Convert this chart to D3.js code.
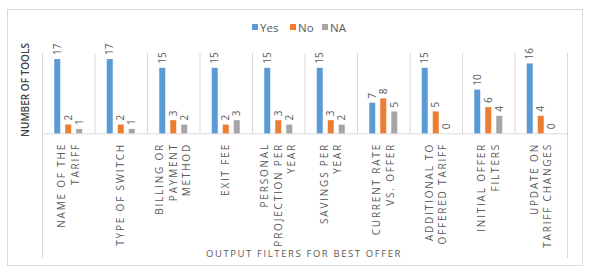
<!DOCTYPE html>
<html><head><meta charset="utf-8">
<script src="https://cdn.jsdelivr.net/npm/d3@7"></script>
<style>
html,body{margin:0;padding:0;background:#fff;}
text{font-family:"Open Sans","Liberation Sans",sans-serif;}
</style></head>
<body><svg id="c" width="589" height="273"></svg>
<script>
const categories = [
  ["NAME OF THE","TARIFF"],
  ["TYPE OF SWITCH"],
  ["BILLING OR","PAYMENT","METHOD"],
  ["EXIT FEE"],
  ["PERSONAL","PROJECTION PER","YEAR"],
  ["SAVINGS PER","YEAR"],
  ["CURRENT RATE","VS. OFFER"],
  ["ADDITIONAL TO","OFFERED TARIFF"],
  ["INITIAL OFFER","FILTERS"],
  ["UPDATE ON","TARIFF CHANGES"]
];
const seriesNames = ["Yes","No","NA"];
const yesValues = [17,17,15,15,15,15,7,15,10,16];
const noValues  = [2,2,3,2,3,3,8,5,6,4];
const naValues  = [1,1,2,3,2,2,5,0,4,0];
const colors = ["#5B9BD5","#ED7D31","#A5A5A5"];
const yTitle = "NUMBER OF TOOLS";
const xTitle = "OUTPUT FILTERS FOR BEST OFFER";

(function(){
const series = [yesValues, noValues, naValues];
const svg = d3.select("#c");

svg.append("rect").attr("x",7.5).attr("y",9.5).attr("width",575).attr("height",256)
  .attr("fill","#fff").attr("stroke","#d9d9d9");

const pl = 42, pr = 567, pt = 54.7, base = 133.3;
const x = d3.scaleBand().domain(d3.range(categories.length)).range([pl,pr]);
const y = d3.scaleLinear().domain([0,18]).range([base, pt]);
const bw = 6;

const seps = d3.range(categories.length+1).map(i => i===categories.length ? pr : x(i));
svg.selectAll("line.sep").data(seps).enter().append("line")
  .attr("x1",d=>d+0.5).attr("x2",d=>d+0.5)
  .attr("y1",53).attr("y2",(d,i)=> (i===0||i===categories.length)?258:base)
  .attr("stroke","#d9d9d9").attr("stroke-width",1);

svg.append("line").attr("x1",pl).attr("x2",pr).attr("y1",base+0.5).attr("y2",base+0.5)
  .attr("stroke","#d9d9d9");

series.forEach((vals,s)=>{
  const g = svg.append("g");
  vals.forEach((v,i)=>{
    const cx = x(i) + x.bandwidth()/2 + (s-1)*11;
    g.append("rect").attr("x",cx-bw/2).attr("width",bw)
      .attr("y",y(v)).attr("height",base-y(v)).attr("fill",colors[s]);
    g.append("text")
      .attr("transform",`translate(${cx+3.5},${y(v)-4}) rotate(-90)`)
      .attr("font-size",10).attr("fill","#595959").text(v);
  });
});

categories.forEach((lines,i)=>{
  const cx = x(i)+x.bandwidth()/2;
  const n = lines.length, lh = 13.5;
  lines.forEach((ln,j)=>{
    const off = (j-(n-1)/2)*lh;
    svg.append("text")
      .attr("transform",`translate(${cx+off+3.5},143) rotate(-90)`)
      .attr("text-anchor","end").attr("font-size",10)
      .style("letter-spacing","1.8px").attr("fill","#595959").text(ln);
  });
});

svg.append("text").attr("transform","translate(29,90) rotate(-90)")
  .attr("text-anchor","middle").attr("font-size",10).attr("font-weight",600).attr("fill","#404040")
  .text(yTitle);
svg.append("text").attr("x",304).attr("y",257).attr("text-anchor","middle")
  .attr("font-size",9.5).style("letter-spacing","1.6px").attr("fill","#595959").text(xTitle);

const lx = [252, 290, 322];
seriesNames.forEach((nm,s)=>{
  svg.append("rect").attr("x",lx[s]).attr("y",24).attr("width",6).attr("height",6).attr("fill",colors[s]);
  svg.append("text").attr("x",lx[s]+8).attr("y",32).attr("font-size",11.5).attr("fill","#595959").text(nm);
});
})();
</script></body></html>
